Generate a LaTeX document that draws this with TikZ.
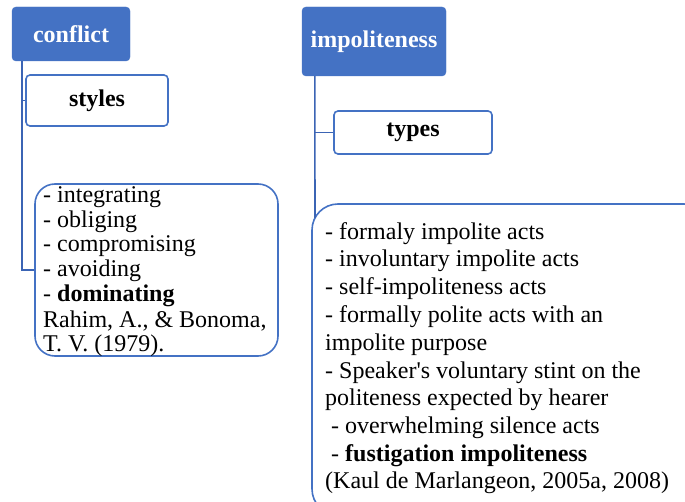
\documentclass[tikz,border=0pt]{standalone}
\usepackage{fontspec}
\setmainfont{Liberation Serif}[Ligatures=TeXOff]
\definecolor{boxblue}{HTML}{4472C4}
\definecolor{lineblue}{HTML}{3B64B4}
\begin{document}
\begin{tikzpicture}[x=1pt,y=-1pt,
  head/.style={draw=boxblue,fill=boxblue,rounded corners=4pt,text=white,font=\fontsize{24}{26}\selectfont\bfseries,inner sep=0pt},
  sub/.style={draw=boxblue,line width=1.6pt,fill=white,rounded corners=4pt,font=\fontsize{24}{26}\selectfont\bfseries,inner sep=0pt},
  listbox/.style={draw=boxblue,line width=1.6pt,rounded corners=20pt,inner sep=0pt},
  conn/.style={draw=lineblue,line width=1.6pt},
  ln/.style={anchor=base west,inner sep=0pt,font=\fontsize{24}{26}\selectfont}]
\useasboundingbox (0,0) rectangle (685,502);
\begin{scope}
\clip (0,0) rectangle (685,502);
% heads
\node[head,minimum width=118pt,minimum height=54pt] (conflict) at (71,34) {conflict};
\node[head,minimum width=144pt,minimum height=69pt] (impol) at (374,41.5) {impoliteness};
% sub boxes
\node[sub,minimum width=142pt,minimum height=51pt] (styles) at (97,100.5) {styles};
\node[sub,minimum width=158pt,minimum height=43pt] (types) at (413,132.5) {types};
% list boxes
\node[listbox,minimum width=243pt,minimum height=172pt] (leftlist) at (156.5,270) {};
\node[listbox,rounded corners=26pt,minimum width=398pt,minimum height=311pt] (rightlist) at (511,359.5) {};
% connectors
\draw[conn] ([xshift=10pt]conflict.south west) |- (leftlist.west);
\draw[conn] ([xshift=10pt]conflict.south west |- styles.west) -- (styles.west);
\coordinate (rj) at (315,218);
\draw[conn] ([xshift=13pt]impol.south west) -- (rj);
\draw[conn] ([xshift=13pt]impol.south west |- types.west) -- (types.west);
% left list text
\node[ln] (l1) at (43,203) {- integrating};
\node[ln] (l2) at (43,227.5) {- obliging};
\node[ln] (l3) at (43,252) {- compromising};
\node[ln] (l4) at (43,277) {- avoiding};
\node[ln] (l5) at (43,302) {- \textbf{dominating}};
\node[ln] (l6) at (43,327) {Rahim, A., \& Bonoma,};
\node[ln] (l7) at (43,352) {T. V. (1979).};
% right list text
\node[ln] (r1) at (325,239.5) {- formaly impolite acts};
\node[ln] (r2) at (325,267) {- involuntary impolite acts};
\node[ln] (r3) at (325,295) {- self-impoliteness acts};
\node[ln] (r4) at (325,323) {- formally polite acts with an};
\node[ln] (r5) at (325,350.5) {impolite purpose};
\node[ln] (r6) at (325,378) {- Speaker's voluntary stint on the};
\node[ln] (r7) at (325,405.5) {politeness expected by hearer};
\node[ln] (r8) at (331,433) {- overwhelming silence acts};
\node[ln] (r9) at (331,461) {- \textbf{fustigation impoliteness}};
\node[ln] (r10) at (325,488) {(Kaul de Marlangeon, 2005a, 2008)};
\end{scope}
\end{tikzpicture}
\end{document}
